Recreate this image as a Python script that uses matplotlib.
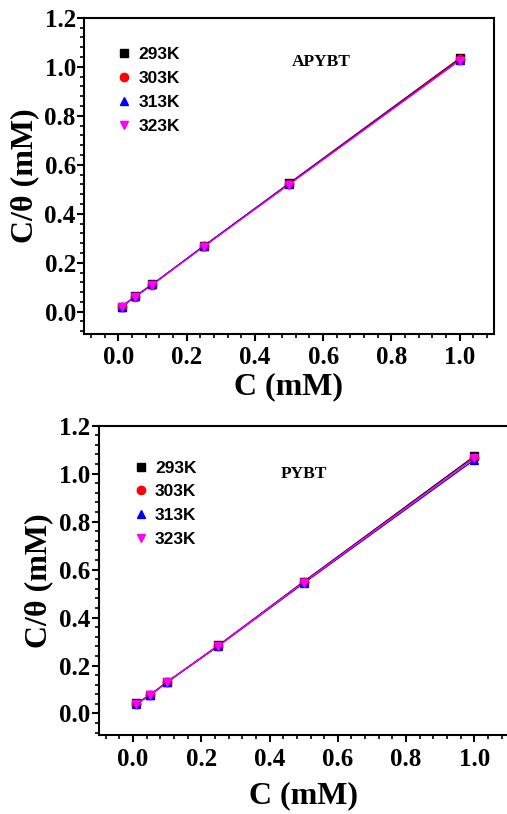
import numpy as np
import matplotlib
matplotlib.use('Agg')
import matplotlib.pyplot as plt
from matplotlib.ticker import MultipleLocator

conc = [0.01, 0.05, 0.1, 0.25, 0.5, 1.0]
temps = ['293K', '303K', '313K', '323K']

# C/theta, APYBT
apybt_293 = [0.020, 0.063, 0.112, 0.268, 0.524, 1.035]
apybt_303 = [0.020, 0.062, 0.111, 0.267, 0.522, 1.031]
apybt_313 = [0.021, 0.063, 0.112, 0.267, 0.521, 1.027]
apybt_323 = [0.019, 0.061, 0.110, 0.265, 0.519, 1.026]

# C/theta, PYBT
pybt_293 = [0.042, 0.077, 0.132, 0.284, 0.550, 1.073]
pybt_303 = [0.041, 0.077, 0.131, 0.283, 0.547, 1.067]
pybt_313 = [0.040, 0.076, 0.130, 0.281, 0.543, 1.058]
pybt_323 = [0.039, 0.075, 0.130, 0.282, 0.546, 1.065]

colors = ['black', 'red', 'blue', 'magenta']
markers = ['s', 'o', '^', 'v']

serif = 'Liberation Serif'
sans = 'Liberation Sans'

fig = plt.figure(figsize=(5.07, 8.14), dpi=100)
ax1 = fig.add_axes([0.166, 0.590, 0.808, 0.388])
ax2 = fig.add_axes([0.195, 0.097, 0.808, 0.380])


def draw_panel(ax, series, name, name_pos, leg_anchor, xlabelpad):
    for vals, c, m, t in zip(series, colors, markers, temps):
        ax.plot(conc, vals, color=c, lw=0.9, zorder=2)
        ax.plot(conc, vals, ls='none', marker=m, color=c, ms=6, label=t, zorder=3)
    ax.set_xlim(-0.1, 1.1)
    ax.set_ylim(-0.09, 1.2)
    ax.xaxis.set_minor_locator(MultipleLocator(0.04))
    ax.yaxis.set_minor_locator(MultipleLocator(0.04))
    ax.tick_params(which='major', direction='out', length=5, width=1.5,
                   top=False, right=False)
    ax.tick_params(axis='y', which='major', pad=1)
    ax.tick_params(axis='x', which='major', pad=4)
    ax.tick_params(which='minor', direction='out', length=3, width=1.2,
                   top=False, right=False)
    xt = [0.0, 0.2, 0.4, 0.6, 0.8, 1.0]
    yt = [0.0, 0.2, 0.4, 0.6, 0.8, 1.0, 1.2]
    ax.set_xticks(xt)
    ax.set_yticks(yt)
    ax.set_xticklabels(['%.1f' % v for v in xt])
    ax.set_yticklabels(['%.1f' % v for v in yt])
    for lab in ax.get_xticklabels() + ax.get_yticklabels():
        lab.set_fontfamily(serif)
        lab.set_fontweight('bold')
        lab.set_fontsize(18)
    for sp in ax.spines.values():
        sp.set_linewidth(1.5)
    ax.set_xlabel('C (mM)', fontfamily=serif, fontweight='bold', fontsize=23,
                  labelpad=xlabelpad)
    ax.set_ylabel('C/θ (mM)', fontfamily=serif, fontweight='bold', fontsize=23,
                  labelpad=4)
    ax.text(name_pos[0], name_pos[1], name, transform=ax.transAxes,
            fontfamily=serif, fontweight='bold', fontsize=12.5,
            ha='center', va='center')
    ax.legend(loc='upper left', bbox_to_anchor=leg_anchor, frameon=False,
              prop={'family': sans, 'weight': 'bold', 'size': 12.5},
              handletextpad=0.3, labelspacing=0.5, handlelength=1.0,
              borderaxespad=0)


draw_panel(ax1, [apybt_293, apybt_303, apybt_313, apybt_323], 'APYBT',
           (0.578, 0.860), (0.06, 0.93), 2)
draw_panel(ax2, [pybt_293, pybt_303, pybt_313, pybt_323], 'PYBT',
           (0.50, 0.845), (0.065, 0.91), 8)

fig.savefig('out.png', dpi=100)
